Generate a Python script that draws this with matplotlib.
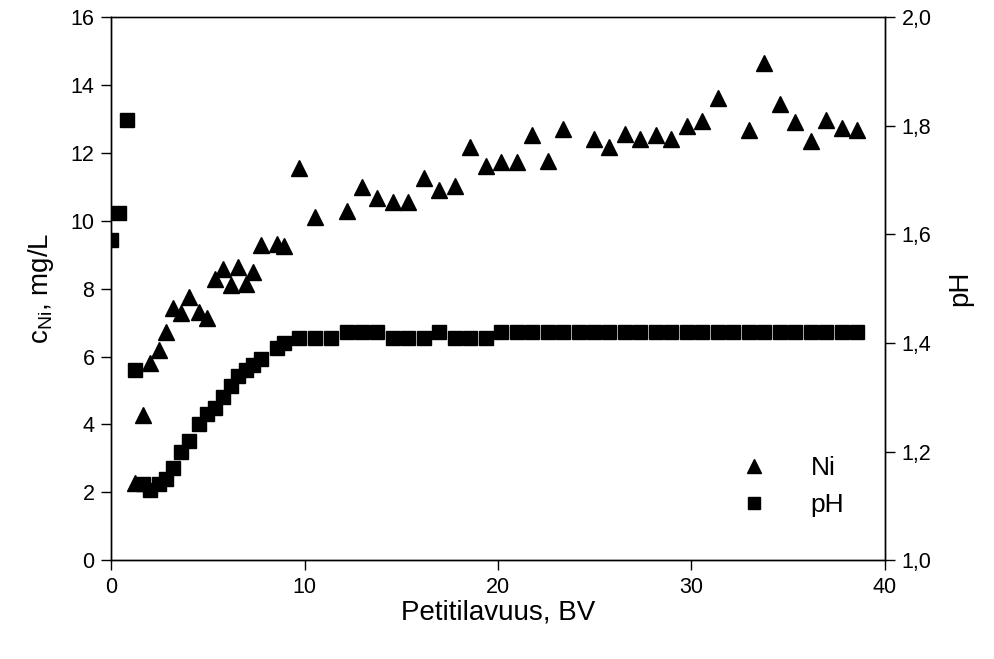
import numpy as np
import matplotlib.pyplot as plt
import matplotlib.ticker as mticker
from matplotlib.lines import Line2D

plt.rcParams["font.family"] = ["Liberation Sans", "DejaVu Sans"]
plt.rcParams["mathtext.fontset"] = "custom"
plt.rcParams["mathtext.rm"] = "Liberation Sans"

# Ni concentration, mg/L
bv_ni = [1.24, 1.64, 2.02, 2.46, 2.84, 3.22, 3.63, 4.05, 4.53, 4.98, 5.39, 5.77,
         6.18, 6.56, 6.98, 7.35, 7.77, 8.56, 8.96, 9.73, 10.56, 12.18, 12.97,
         13.76, 14.59, 15.37, 16.18, 16.97, 17.76, 18.55, 19.36, 20.16, 20.97,
         21.76, 22.57, 23.38, 24.96, 25.75, 26.56, 27.35, 28.17, 28.96, 29.75,
         30.56, 31.37, 32.97, 33.76, 34.56, 35.36, 36.16, 36.97, 37.76, 38.55]
ni = [2.27, 4.27, 5.80, 6.19, 6.71, 7.44, 7.29, 7.74, 7.32, 7.14, 8.27, 8.59,
      8.12, 8.64, 8.14, 8.49, 9.28, 9.33, 9.25, 11.54, 10.11, 10.28, 11.00,
      10.66, 10.56, 10.54, 11.26, 10.90, 11.03, 12.17, 11.62, 11.74, 11.72,
      12.52, 11.76, 12.69, 12.40, 12.18, 12.57, 12.42, 12.52, 12.40, 12.80,
      12.95, 13.62, 12.67, 14.65, 13.44, 12.91, 12.35, 12.96, 12.74, 12.67]

# pH
bv_ph = [0.0, 0.43, 0.84, 1.24, 1.64, 2.02, 2.46, 2.84, 3.22, 3.63, 4.05, 4.53,
         4.98, 5.39, 5.77, 6.18, 6.56, 6.98, 7.35, 7.77, 8.56, 8.96, 9.73, 10.56,
         11.37, 12.18, 12.97, 13.76, 14.59, 15.37, 16.18, 16.97, 17.76, 18.55,
         19.36, 20.16, 20.97, 21.76, 22.57, 23.38, 24.17, 24.96, 25.75, 26.56,
         27.35, 28.17, 28.96, 29.75, 30.56, 31.37, 32.17, 32.97, 33.76, 34.56,
         35.36, 36.16, 36.97, 37.76, 38.55]
ph = [1.59, 1.64, 1.81, 1.35, 1.14, 1.13, 1.14, 1.15, 1.17, 1.20, 1.22, 1.25,
      1.27, 1.28, 1.30, 1.32, 1.34, 1.35, 1.36, 1.37, 1.39, 1.40, 1.41, 1.41,
      1.41, 1.42, 1.42, 1.42, 1.41, 1.41, 1.41, 1.42, 1.41, 1.41,
      1.41, 1.42, 1.42, 1.42, 1.42, 1.42, 1.42, 1.42, 1.42, 1.42,
      1.42, 1.42, 1.42, 1.42, 1.42, 1.42, 1.42, 1.42, 1.42, 1.42,
      1.42, 1.42, 1.42, 1.42, 1.42]

fig = plt.figure(figsize=(9.95, 6.59), dpi=100)
ax = fig.add_axes([0.1116, 0.150, 0.7778, 0.824])
ax2 = ax.twinx()

ax.plot(bv_ni, ni, linestyle="none", marker="^", ms=11, color="black")
ax2.plot(bv_ph, ph, linestyle="none", marker="s", ms=9.5, color="black")

ax.set_xlim(0, 40)
ax.set_ylim(0, 16)
ax2.set_ylim(1.0, 2.0)
ax.set_xticks([0, 10, 20, 30, 40])
ax.set_yticks(np.arange(0, 17, 2))
ax2.set_yticks([1.0, 1.2, 1.4, 1.6, 1.8, 2.0])
ax2.yaxis.set_major_formatter(mticker.FuncFormatter(lambda v, p: f"{v:.1f}".replace(".", ",")))

for a in (ax, ax2):
    a.tick_params(direction="out", length=7, width=1, labelsize=15.5, pad=5)
    for s in a.spines.values():
        s.set_linewidth(1)
ax.spines["top"].set_color("#555555")

ax.set_xlabel("Petitilavuus, BV", fontsize=20, labelpad=1)
ax.set_ylabel(r"c$_{\mathregular{Ni}}$, mg/L", fontsize=20, labelpad=10)
ax2.set_ylabel("pH", fontsize=20, labelpad=11, rotation=90)

handles = [Line2D([], [], linestyle="none", marker="^", ms=10, color="black"),
           Line2D([], [], linestyle="none", marker="s", ms=8.5, color="black")]
ax.legend(handles, ["Ni", "pH"], loc="lower right", bbox_to_anchor=(0.978, 0.035),
          frameon=False, fontsize=19, handlelength=1, handletextpad=1.66,
          labelspacing=0.5)

fig.savefig("out.png", dpi=100)
